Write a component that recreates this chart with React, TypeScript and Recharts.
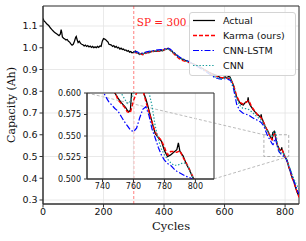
import React from "react";
import {
  LineChart,
  Line,
  XAxis,
  YAxis,
  CartesianGrid,
  ReferenceLine,
  ReferenceArea,
  Label,
} from "recharts";

document.body.style.margin = "0";

// measured capacity
const ACTUAL_CYCLES = [
  0, 4, 8, 12, 16, 20, 24, 28, 33, 37, 41, 45, 49, 53, 57, 60, 62, 64, 68, 72, 76, 80, 84, 88, 92, 96,
  100, 104, 108, 110, 112, 116, 120, 124, 128, 132, 136, 140, 144, 148, 152, 156, 160, 164, 168, 172,
  176, 180, 184, 188, 192, 196, 200, 204, 208, 212, 215, 218, 222, 226, 230, 234, 238, 242, 246, 250,
  254, 258, 262, 266, 270, 274, 278, 282, 286, 290, 294, 298, 302, 306, 310, 315, 320, 325, 330, 335,
  340, 345, 350, 355, 360, 365, 370, 375, 380, 385, 390, 395, 400, 405, 410, 414, 418, 422, 426, 430,
  435, 440, 445, 450, 455, 460, 465, 470, 475, 480, 490, 500, 510, 520, 530, 540, 550, 560, 569, 575,
  580, 585, 591, 597, 603, 608, 613, 618, 622, 626, 629, 633, 636, 640, 643, 646, 651, 655, 659, 662,
  666, 670, 673, 676, 678, 680, 683, 686, 690, 695, 700, 704, 708, 712, 716, 719, 721, 723, 726, 728,
  730, 732, 734, 736, 738, 740, 742, 744, 746, 748, 750, 752, 754, 755, 756, 757, 758, 759, 760, 761,
  762, 763, 764, 765, 766, 767, 768, 769, 770, 772, 774, 776, 778, 780, 782, 784, 786, 788, 789, 790,
  792, 794, 796, 798, 800, 802, 804, 806, 808, 810, 812, 816, 820, 824, 828, 832, 836, 840, 843, 846,
];
const ACTUAL_CAP = [
  1.134, 1.122, 1.118, 1.11, 1.106, 1.1, 1.092, 1.086, 1.078, 1.072, 1.068, 1.064, 1.06, 1.056, 1.062,
  1.083, 1.07, 1.05, 1.044, 1.04, 1.036, 1.038, 1.03, 1.026, 1.018, 1.012, 1.016, 1.03, 1.048, 1.052,
  1.04, 1.024, 1.03, 1.02, 1.016, 1.014, 1.008, 1.012, 1.006, 1.01, 1.004, 1.008, 1.002, 1.006, 1.0,
  1.004, 1.0, 1.006, 1.002, 1.008, 1.006, 1.03, 1.042, 1.04, 1.036, 1.03, 1.026, 1.016, 1.014, 1.012,
  1.006, 1.01, 1.002, 1.006, 0.999, 1.002, 0.994, 0.998, 0.992, 0.994, 0.988, 0.99, 0.984, 0.987, 0.98,
  0.983, 0.977, 0.979, 0.982, 0.985, 0.98, 0.974, 0.969, 0.973, 0.97, 0.976, 0.978, 0.98, 0.977, 0.981,
  0.984, 0.982, 0.985, 0.984, 0.987, 0.985, 0.988, 0.986, 0.99, 0.992, 0.995, 0.998, 0.992, 0.986,
  0.984, 0.978, 0.975, 0.967, 0.962, 0.955, 0.952, 0.948, 0.946, 0.942, 0.94, 0.937, 0.93, 0.924, 0.917,
  0.91, 0.902, 0.894, 0.886, 0.88, 0.875, 0.872, 0.868, 0.864, 0.86, 0.864, 0.866, 0.862, 0.868, 0.866,
  0.852, 0.838, 0.829, 0.805, 0.79, 0.775, 0.765, 0.758, 0.746, 0.74, 0.738, 0.737, 0.744, 0.75, 0.752,
  0.754, 0.772, 0.75, 0.74, 0.733, 0.725, 0.714, 0.706, 0.7, 0.694, 0.69, 0.684, 0.68, 0.694, 0.676,
  0.668, 0.66, 0.652, 0.645, 0.638, 0.634, 0.628, 0.624, 0.62, 0.614, 0.607, 0.6, 0.594, 0.589, 0.585,
  0.583, 0.58, 0.578, 0.58, 0.606, 0.604, 0.608, 0.611, 0.614, 0.616, 0.612, 0.604, 0.598, 0.593, 0.587,
  0.58, 0.566, 0.553, 0.548, 0.544, 0.533, 0.526, 0.528, 0.531, 0.534, 0.542, 0.532, 0.527, 0.518,
  0.511, 0.503, 0.497, 0.493, 0.489, 0.484, 0.474, 0.463, 0.452, 0.438, 0.418, 0.4, 0.39, 0.37, 0.352,
  0.336, 0.325, 0.318,
];

// predictions start at the starting point (SP = 300)
const PRED_CYCLES = [
  300, 310, 320, 330, 340, 350, 360, 370, 380, 390, 400, 410, 420, 430, 440, 450, 460, 470, 480, 490,
  500, 510, 520, 530, 540, 550, 560, 570, 580, 590, 600, 610, 620, 630, 640, 650, 660, 670, 680, 690,
  700, 710, 720, 730, 732, 734, 736, 738, 740, 742, 744, 746, 748, 750, 752, 754, 756, 758, 760, 762,
  764, 766, 768, 770, 772, 774, 776, 778, 780, 782, 784, 786, 788, 790, 792, 794, 796, 798, 800, 802,
  804, 806, 808, 810, 812, 818, 824, 830, 836, 842, 846,
];
const KARMA = [
  0.98, 0.976, 0.972, 0.968, 0.974, 0.98, 0.982, 0.986, 0.984, 0.989, 0.991, 0.996, 0.992, 0.976, 0.962,
  0.95, 0.942, 0.938, 0.933, 0.928, 0.922, 0.915, 0.908, 0.9, 0.893, 0.885, 0.878, 0.873, 0.866, 0.862,
  0.862, 0.86, 0.856, 0.828, 0.778, 0.75, 0.742, 0.748, 0.758, 0.728, 0.708, 0.69, 0.68,
  0.655, 0.648, 0.64, 0.634, 0.628, 0.623, 0.618, 0.612, 0.606, 0.601, 0.592, 0.588, 0.584, 0.578,
  0.577, 0.591, 0.6, 0.604, 0.604, 0.59, 0.578, 0.566, 0.555, 0.549, 0.545, 0.537, 0.528, 0.532, 0.532,
  0.531, 0.533, 0.525, 0.519, 0.512, 0.504, 0.498, 0.492, 0.487, 0.481, 0.474, 0.465, 0.455,
  0.428, 0.4, 0.378, 0.352, 0.33, 0.312,
];
const CNN_LSTM = [
  0.98, 0.982, 0.975, 0.976, 0.98, 0.983, 0.986, 0.988, 0.99, 0.991, 0.994, 0.998, 0.994, 0.982, 0.97,
  0.958, 0.95, 0.944, 0.938, 0.93, 0.922, 0.914, 0.906, 0.897, 0.888, 0.879, 0.87, 0.862, 0.858, 0.856,
  0.858, 0.856, 0.85, 0.81, 0.74, 0.712, 0.7, 0.695, 0.69, 0.68, 0.672, 0.666, 0.658,
  0.64, 0.632, 0.624, 0.616, 0.61, 0.603, 0.596, 0.59, 0.586, 0.582, 0.579, 0.573, 0.567, 0.562, 0.557,
  0.555, 0.559, 0.571, 0.581, 0.584, 0.574, 0.558, 0.548, 0.537, 0.528, 0.522, 0.518, 0.516, 0.512,
  0.509, 0.507, 0.505, 0.503, 0.502, 0.5, 0.496, 0.492, 0.487, 0.481, 0.473, 0.464, 0.455,
  0.432, 0.405, 0.384, 0.36, 0.34, 0.328,
];
const CNN = [
  0.98, 0.978, 0.97, 0.972, 0.976, 0.979, 0.983, 0.985, 0.986, 0.988, 0.99, 0.994, 0.99, 0.979, 0.966,
  0.955, 0.947, 0.941, 0.935, 0.929, 0.923, 0.916, 0.909, 0.9, 0.891, 0.882, 0.873, 0.865, 0.86, 0.857,
  0.86, 0.862, 0.857, 0.82, 0.765, 0.735, 0.722, 0.72, 0.716, 0.705, 0.692, 0.68, 0.668,
  0.648, 0.642, 0.636, 0.63, 0.624, 0.62, 0.616, 0.612, 0.608, 0.605, 0.602, 0.6, 0.594, 0.588, 0.59,
  0.601, 0.61, 0.614, 0.615, 0.612, 0.601, 0.585, 0.562, 0.546, 0.535, 0.528, 0.523, 0.519, 0.516,
  0.516, 0.517, 0.519, 0.518, 0.512, 0.503, 0.497, 0.492, 0.488, 0.483, 0.476, 0.468, 0.46,
  0.44, 0.414, 0.395, 0.375, 0.36, 0.35,
];

const X_TICKS = [0, 200, 400, 600, 800];
const Y_TICKS = [0.3, 0.4, 0.5, 0.6, 0.7, 0.8, 0.9, 1.0, 1.1];
const INSET_X_TICKS = [740, 760, 780, 800];
const INSET_Y_TICKS = [0.5, 0.525, 0.55, 0.575, 0.6];

const X_DOMAIN: [number, number] = [0, 846];
const Y_DOMAIN: [number, number] = [0.2816, 1.192];
const ZOOM_X: [number, number] = [730, 812];
const ZOOM_Y: [number, number] = [0.5, 0.6];
const SP = 300;
// inset corners expressed in main-axis units (top-left, bottom-right)
const INSET_TL = { x: 145.5, y: 0.792 };
const INSET_BR = { x: 565, y: 0.397 };

const actualData = ACTUAL_CYCLES.map((c, i) => ({ cycle: c, cap: ACTUAL_CAP[i] }));
const predData = PRED_CYCLES.map((c, i) => ({
  cycle: c,
  karma: KARMA[i],
  lstm: CNN_LSTM[i],
  cnn: CNN[i],
}));

const SANS = "DejaVu Sans, sans-serif";
const SERIF = "DejaVu Serif, serif";
const SPINE = "#333";
const GRID = "#e3e3e3";

const SERIES = [
  { key: "cap", name: "Actual", color: "#000", width: 1.25, dash: undefined, data: actualData },
  { key: "karma", name: "Karma (ours)", color: "#ff0000", width: 1.4, dash: "4 2", data: predData },
  { key: "lstm", name: "CNN-LSTM", color: "#0000ff", width: 1.2, dash: "6 2 1.5 2", data: predData },
  { key: "cnn", name: "CNN", color: "#1a9e9e", width: 1.2, dash: "1.4 1.8", data: predData },
];

function seriesLines() {
  return SERIES.map((s) => (
    <Line
      key={s.key}
      data={s.data}
      dataKey={s.key}
      type="linear"
      stroke={s.color}
      strokeWidth={s.width}
      strokeDasharray={s.dash}
      dot={false}
      activeDot={false}
      isAnimationActive={false}
    />
  ));
}

function LegendBox() {
  return (
    <div
      style={{
        position: "absolute",
        left: 189,
        top: 12,
        width: 105,
        height: 62,
        background: "rgba(255,255,255,0.85)",
        border: "1px solid #d4d4d4",
        borderRadius: 3,
        fontFamily: SANS,
        fontSize: 9.5,
        color: "#111",
      }}
    >
      {SERIES.map((s) => (
        <div key={s.key} style={{ display: "flex", alignItems: "center", height: 15 }}>
          <svg width={22} height={15} style={{ marginLeft: 3, marginRight: 8 }}>
            <line
              x1={0}
              x2={22}
              y1={7.5}
              y2={7.5}
              stroke={s.color}
              strokeWidth={s.width}
              strokeDasharray={s.dash}
            />
          </svg>
          <span>{s.name}</span>
        </div>
      ))}
    </div>
  );
}

export default function App() {
  return (
    <div style={{ position: "relative", width: 306, height: 241, background: "#fff" }}>
      <LineChart width={306} height={241} margin={{ top: 6, right: 7, bottom: 0, left: 0 }}>
        <CartesianGrid stroke={GRID} strokeWidth={0.8} />
        <XAxis
          type="number"
          dataKey="cycle"
          domain={X_DOMAIN}
          ticks={X_TICKS}
          allowDataOverflow
          height={37}
          tickSize={3.5}
          tickMargin={1}
          stroke={SPINE}
          tick={{ fontSize: 9.5, fill: "#111", fontFamily: SANS }}
        >
          <Label
            content={({ viewBox }: any) => (
              <text
                x={viewBox.x + viewBox.width / 2}
                y={viewBox.y + 26}
                textAnchor="middle"
                fontFamily={SERIF}
                fontSize={11.5}
                fill="#111"
              >
                Cycles
              </text>
            )}
          />
        </XAxis>
        <YAxis
          type="number"
          domain={Y_DOMAIN}
          ticks={Y_TICKS}
          allowDataOverflow
          width={43}
          tickSize={3.5}
          tickMargin={2}
          stroke={SPINE}
          tickFormatter={(v: number) => v.toFixed(1)}
          tick={{ fontSize: 9.5, fill: "#111", fontFamily: SANS }}
        >
          <Label
            content={({ viewBox }: any) => {
              const cy = viewBox.y + viewBox.height / 2;
              return (
                <text
                  x={11}
                  y={cy}
                  transform={`rotate(-90, 11, ${cy})`}
                  textAnchor="middle"
                  dominantBaseline="central"
                  fontFamily={SERIF}
                  fontSize={11}
                  fill="#111"
                >
                  Capacity (Ah)
                </text>
              );
            }}
          />
        </YAxis>
        <ReferenceLine
          x={SP}
          stroke="#ff0000"
          strokeOpacity={0.5}
          strokeDasharray="3 2"
          label={({ viewBox }: any) => (
            <text x={viewBox.x + 3} y={viewBox.y + 20} fill="#ff2020" fontFamily={SERIF} fontSize={10.5}>
              SP = 300
            </text>
          )}
        />
        {seriesLines()}
        <ReferenceArea
          x1={ZOOM_X[0]}
          x2={ZOOM_X[1]}
          y1={ZOOM_Y[0]}
          y2={ZOOM_Y[1]}
          fill="none"
          stroke="#9c9c9c"
          strokeWidth={0.8}
          strokeDasharray="3 2"
        />
        <ReferenceLine
          segment={[INSET_TL, { x: ZOOM_X[0], y: ZOOM_Y[1] }]}
          stroke="#aaa"
          strokeWidth={0.8}
          strokeDasharray="3 2"
          ifOverflow="visible"
        />
        <ReferenceLine
          segment={[INSET_BR, { x: ZOOM_X[1], y: ZOOM_Y[0] }]}
          stroke="#aaa"
          strokeWidth={0.8}
          strokeDasharray="3 2"
          ifOverflow="visible"
        />
        <ReferenceArea
          x1={X_DOMAIN[0]}
          x2={X_DOMAIN[1]}
          y1={Y_DOMAIN[0]}
          y2={Y_DOMAIN[1]}
          fill="none"
          stroke={SPINE}
          strokeWidth={1}
        />
      </LineChart>

      <div style={{ position: "absolute", left: 45, top: 88 }}>
        <LineChart width={171} height={107} margin={{ top: 5, right: 2, bottom: 0, left: 0 }}>
          <CartesianGrid stroke={GRID} strokeWidth={0.8} />
          <XAxis
            type="number"
            dataKey="cycle"
            domain={ZOOM_X}
            ticks={INSET_X_TICKS}
            allowDataOverflow
            height={16}
            tickSize={3}
            tickMargin={1}
            stroke={SPINE}
            tick={{ fontSize: 8, fill: "#111", fontFamily: SANS }}
          />
          <YAxis
            type="number"
            domain={ZOOM_Y}
            ticks={INSET_Y_TICKS}
            allowDataOverflow
            width={42}
            tickSize={3}
            tickMargin={3}
            stroke={SPINE}
            tickFormatter={(v: number) => v.toFixed(3)}
            tick={{ fontSize: 8, fill: "#111", fontFamily: SANS }}
          />
          {seriesLines()}
          <ReferenceArea
            x1={ZOOM_X[0]}
            x2={ZOOM_X[1]}
            y1={ZOOM_Y[0]}
            y2={ZOOM_Y[1]}
            fill="none"
            stroke={SPINE}
            strokeWidth={1}
          />
        </LineChart>
      </div>

      <LegendBox />
    </div>
  );
}
